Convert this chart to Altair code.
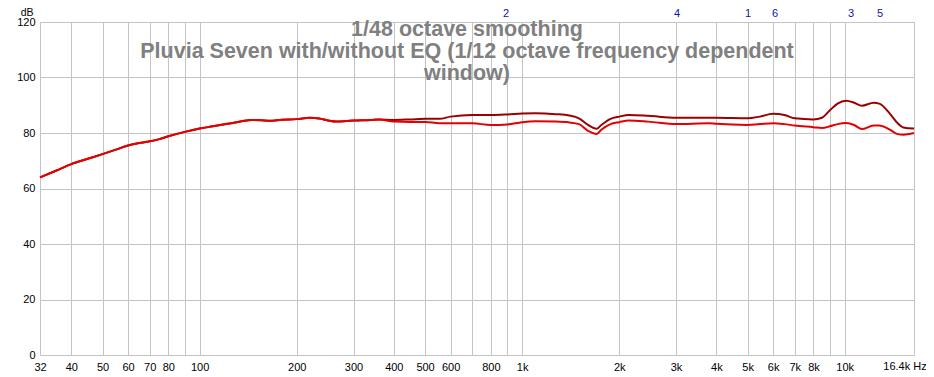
import altair as alt
import pandas as pd

# shared part of both curves (Hz, dB)
common_freq = [32, 36, 40, 45, 50, 55, 60, 65, 70, 75, 80, 90, 100, 110, 122, 135, 145, 155, 165,
               180, 200, 220, 235, 250, 265, 285, 300, 340, 360]
common_db = [64.0, 66.5, 68.8, 70.7, 72.4, 74.0, 75.5, 76.4, 77.0, 77.8, 78.8, 80.4, 81.6, 82.4, 83.3,
             84.2, 84.7, 84.6, 84.4, 84.8, 85.0, 85.5, 85.2, 84.5, 84.1, 84.3, 84.5, 84.7, 84.9]

# upper (dark red) curve above 360 Hz
upper_freq = [400, 450, 500, 554, 600, 700, 800, 900, 1000, 1100, 1270, 1400, 1500, 1600, 1700, 1760,
              1880, 2000, 2140, 2460, 3000, 3800, 4000, 5000, 5450, 6000, 6500, 7000, 8000, 8500, 9000,
              9500, 10100, 10700, 11300, 12300, 12800, 13800, 14600, 15200, 16400]
upper_db = [84.7, 84.9, 85.1, 85.1, 85.9, 86.5, 86.5, 86.7, 87.0, 87.1, 86.8, 86.3, 85.3, 82.9, 81.5, 82.9,
            85.1, 85.9, 86.5, 86.2, 85.5, 85.5, 85.5, 85.3, 85.9, 86.9, 86.5, 85.3, 84.9, 85.5, 88.2,
            90.6, 91.6, 90.9, 89.8, 90.9, 90.6, 87.0, 83.5, 82.0, 81.6]

# lower (bright red) curve above 360 Hz
lower_freq = upper_freq
lower_db = [84.1, 84.0, 84.0, 83.5, 83.5, 83.5, 82.9, 83.1, 83.9, 84.2, 84.1, 83.8, 83.2, 80.8, 79.6, 81.2,
            83.2, 83.9, 84.5, 84.1, 83.2, 83.5, 83.3, 82.9, 83.2, 83.5, 83.2, 82.7, 82.1, 81.8, 82.4,
            83.2, 83.6, 82.9, 81.4, 82.7, 82.7, 81.2, 79.6, 79.4, 80.0]

marker_labels = ["2", "4", "1", "6", "3", "5"]
marker_freq = [891, 3020, 5020, 6080, 10470, 12880]

title_lines = ["1/48 octave smoothing",
               "Pluvia Seven with/without EQ (1/12 octave frequency dependent",
               "window)"]

x_ticks = [32, 40, 50, 60, 70, 80, 90, 100, 200, 300, 400, 500, 600, 700, 800, 900,
           1000, 2000, 3000, 4000, 5000, 6000, 7000, 8000, 9000, 10000, 16400]
hidden_ticks = [90, 700, 900, 9000, 16400]
y_ticks = [0, 20, 40, 60, 80, 100, 120]
end_label = "16.4k Hz"

FONT = "Liberation Sans"

upper_df = pd.DataFrame({"freq": common_freq + upper_freq, "db": common_db + upper_db})
lower_df = pd.DataFrame({"freq": common_freq + lower_freq, "db": common_db + lower_db})
marker_df = pd.DataFrame({"freq": marker_freq, "label": marker_labels})

hidden_expr = " || ".join(f"datum.value == {v}" for v in hidden_ticks)
label_expr = (f"({hidden_expr}) ? '' : (datum.value >= 1000 ? (datum.value / 1000) + 'k' : datum.value)")

xscale = alt.Scale(type="log", domain=[32, 16400], nice=False)
yscale = alt.Scale(domain=[0, 120], nice=False)

xaxis = alt.Axis(values=x_ticks, labelExpr=label_expr, grid=True, gridColor="#c4c4c4",
                 domain=False, ticks=False, labelPadding=6, labelFont=FONT, labelFontSize=11,
                 labelColor="#000000", labelOverlap=False, labelBound=False, labelFlush=False, title=None)
yaxis = alt.Axis(values=y_ticks, grid=True, gridColor="#c4c4c4", domain=False, ticks=False,
                 labelPadding=5, labelFont=FONT, labelFontSize=11, labelColor="#000000",
                 title="dB", titleAngle=0, titleAlign="right", titleBaseline="alphabetic",
                 titleX=-7, titleY=-7, titleFont=FONT, titleFontSize=10.5, titleFontWeight="normal",
                 titleColor="#000000")

upper = alt.Chart(upper_df).mark_line(color="#9a0000", strokeWidth=2, interpolate="monotone").encode(
    x=alt.X("freq:Q", scale=xscale, axis=xaxis),
    y=alt.Y("db:Q", scale=yscale, axis=yaxis),
)
lower = alt.Chart(lower_df).mark_line(color="#e40000", strokeWidth=2, interpolate="monotone").encode(
    x=alt.X("freq:Q", scale=xscale),
    y=alt.Y("db:Q", scale=yscale),
)

markers = alt.Chart(marker_df).mark_text(font=FONT, fontSize=11, color="#1010b0", baseline="alphabetic").encode(
    x=alt.X("freq:Q", scale=xscale),
    y=alt.value(-5),
    text="label:N",
)

end_df = pd.DataFrame({"freq": [16400], "label": [end_label]})
end_text = alt.Chart(end_df).mark_text(font=FONT, fontSize=11, color="#000000", baseline="middle",
                                       dx=-9).encode(
    x=alt.X("freq:Q", scale=xscale),
    y=alt.value(345),
    text="label:N",
)

title_layers = []
for i, line in enumerate(title_lines):
    tdf = pd.DataFrame({"t": [line]})
    title_layers.append(
        alt.Chart(tdf).mark_text(font=FONT, fontSize=21.5, fontWeight="bold", color="#808080",
                                 align="center", baseline="alphabetic").encode(
            x=alt.value(427), y=alt.value(14 + 22 * i), text="t:N")
    )

chart = alt.layer(upper, lower, markers, end_text, *title_layers).properties(
    width=874, height=333,
    autosize=alt.AutoSizeParams(type="none"),
    padding={"left": 32, "top": 14, "right": 12, "bottom": 20},
).configure_view(stroke="#ababab", strokeWidth=2.5).configure(background="#ffffff")

chart.save("out.html", embed_options={"renderer": "svg", "actions": False})
